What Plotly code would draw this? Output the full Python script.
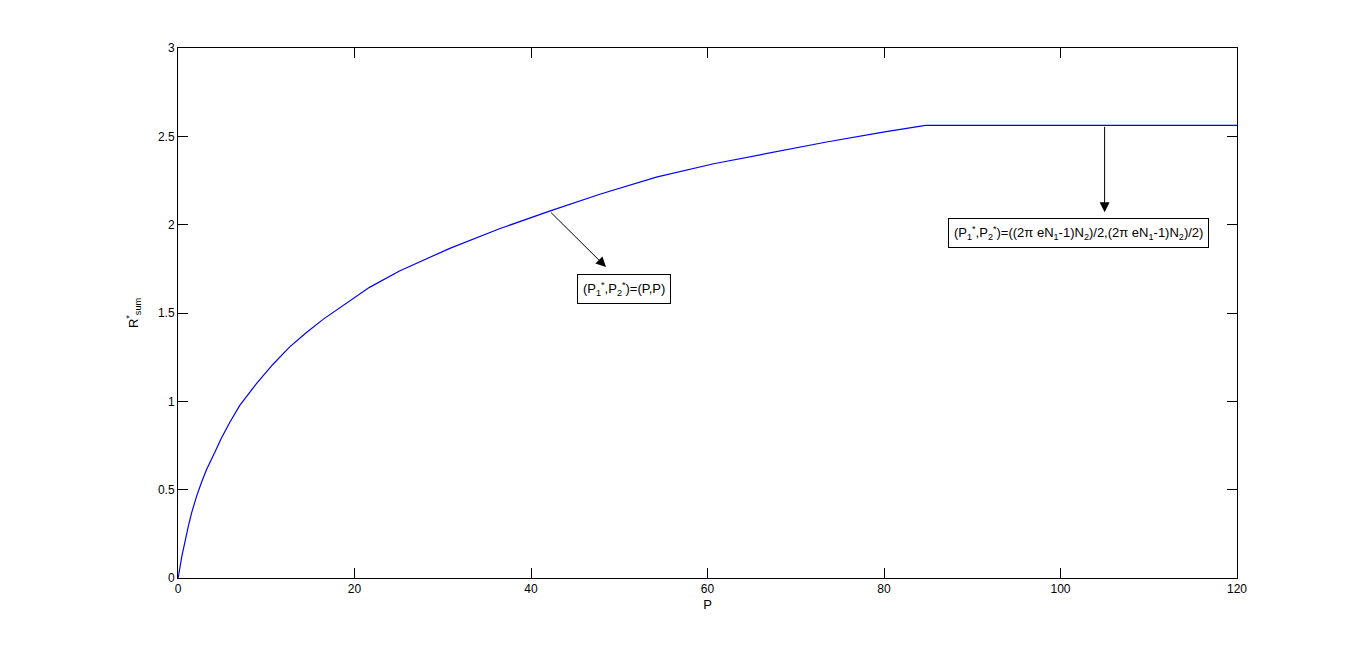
import plotly.graph_objects as go

# valores
P_vals = [0, 0.04, 0.42, 0.79, 1.18, 1.55, 2.12, 2.69, 3.25, 4.2, 4.88, 5.86, 7.0, 8.89,
          10.77, 12.66, 14.56, 16.44, 18.33, 19.66, 21.7, 25.1, 30.8, 36.5, 42.1, 47.8,
          54.2, 60.7, 67.1, 73.5, 79.9, 84.7, 120]
R_vals = [0, 0.006, 0.12, 0.21, 0.295, 0.37, 0.465, 0.545, 0.615, 0.715, 0.788, 0.88, 0.977, 1.10,
          1.21, 1.308, 1.39, 1.464, 1.53, 1.578, 1.645, 1.738, 1.866, 1.978, 2.077, 2.172,
          2.269, 2.345, 2.408, 2.468, 2.524, 2.562, 2.562]

x_ticks = [0, 20, 40, 60, 80, 100, 120]
y_ticks = [0, 0.5, 1, 1.5, 2, 2.5, 3]

label_1 = "(P<sub>1</sub><sup>*</sup>,P<sub>2</sub><sup>*</sup>)=(P,P)"
label_2 = ("(P<sub>1</sub><sup>*</sup>,P<sub>2</sub><sup>*</sup>)=((2\u03c0 eN<sub>1</sub>-1)N<sub>2</sub>)/2,"
           "(2\u03c0 eN<sub>1</sub>-1)N<sub>2</sub>)/2)")

fig = go.Figure()
fig.add_trace(go.Scatter(x=P_vals, y=R_vals, mode="lines",
                         line=dict(color="#0000ff", width=1.2), showlegend=False))

# flechas (cola en la curva, punta hacia el texto)
fig.add_annotation(x=48.5, y=1.76, ax=42.1, ay=2.077, xref="x", yref="y", axref="x", ayref="y",
                   text="", showarrow=True, arrowhead=2, arrowsize=2, arrowwidth=1, arrowcolor="black")
fig.add_annotation(x=105, y=2.07, ax=105, ay=2.562, xref="x", yref="y", axref="x", ayref="y",
                   text="", showarrow=True, arrowhead=2, arrowsize=2, arrowwidth=1, arrowcolor="black")

# cajas de texto
fig.add_annotation(x=50.5, y=1.635, xref="x", yref="y", text=label_1, showarrow=False,
                   bordercolor="black", borderwidth=1, borderpad=5, bgcolor="white",
                   font=dict(family="Liberation Sans, Arial", size=13, color="black"))
fig.add_annotation(x=102, y=1.955, xref="x", yref="y", text=label_2, showarrow=False,
                   bordercolor="black", borderwidth=1, borderpad=5, bgcolor="white",
                   font=dict(family="Liberation Sans, Arial", size=13, color="black"))

axis_style = dict(showgrid=False, zeroline=False, showline=True, linecolor="black", linewidth=1,
                  mirror="ticks", ticks="inside", ticklen=10, tickcolor="black",
                  tickfont=dict(family="Liberation Sans, Arial", size=12, color="black"))

fig.update_layout(
    width=1366, height=650,
    margin=dict(l=170, r=137, t=40, b=80),
    paper_bgcolor="white", plot_bgcolor="white",
    xaxis=dict(range=[0, 120], tickvals=x_ticks,
               title=dict(text="P", standoff=4, font=dict(family="Liberation Sans, Arial", size=13, color="black")),
               **axis_style),
    yaxis=dict(range=[0, 3], tickvals=y_ticks,
               title=dict(text="R<sup>*</sup><sub>sum</sub>", standoff=16,
                          font=dict(family="Liberation Sans, Arial", size=13, color="black")),
               **axis_style),
)

fig.write_html("out.html")
